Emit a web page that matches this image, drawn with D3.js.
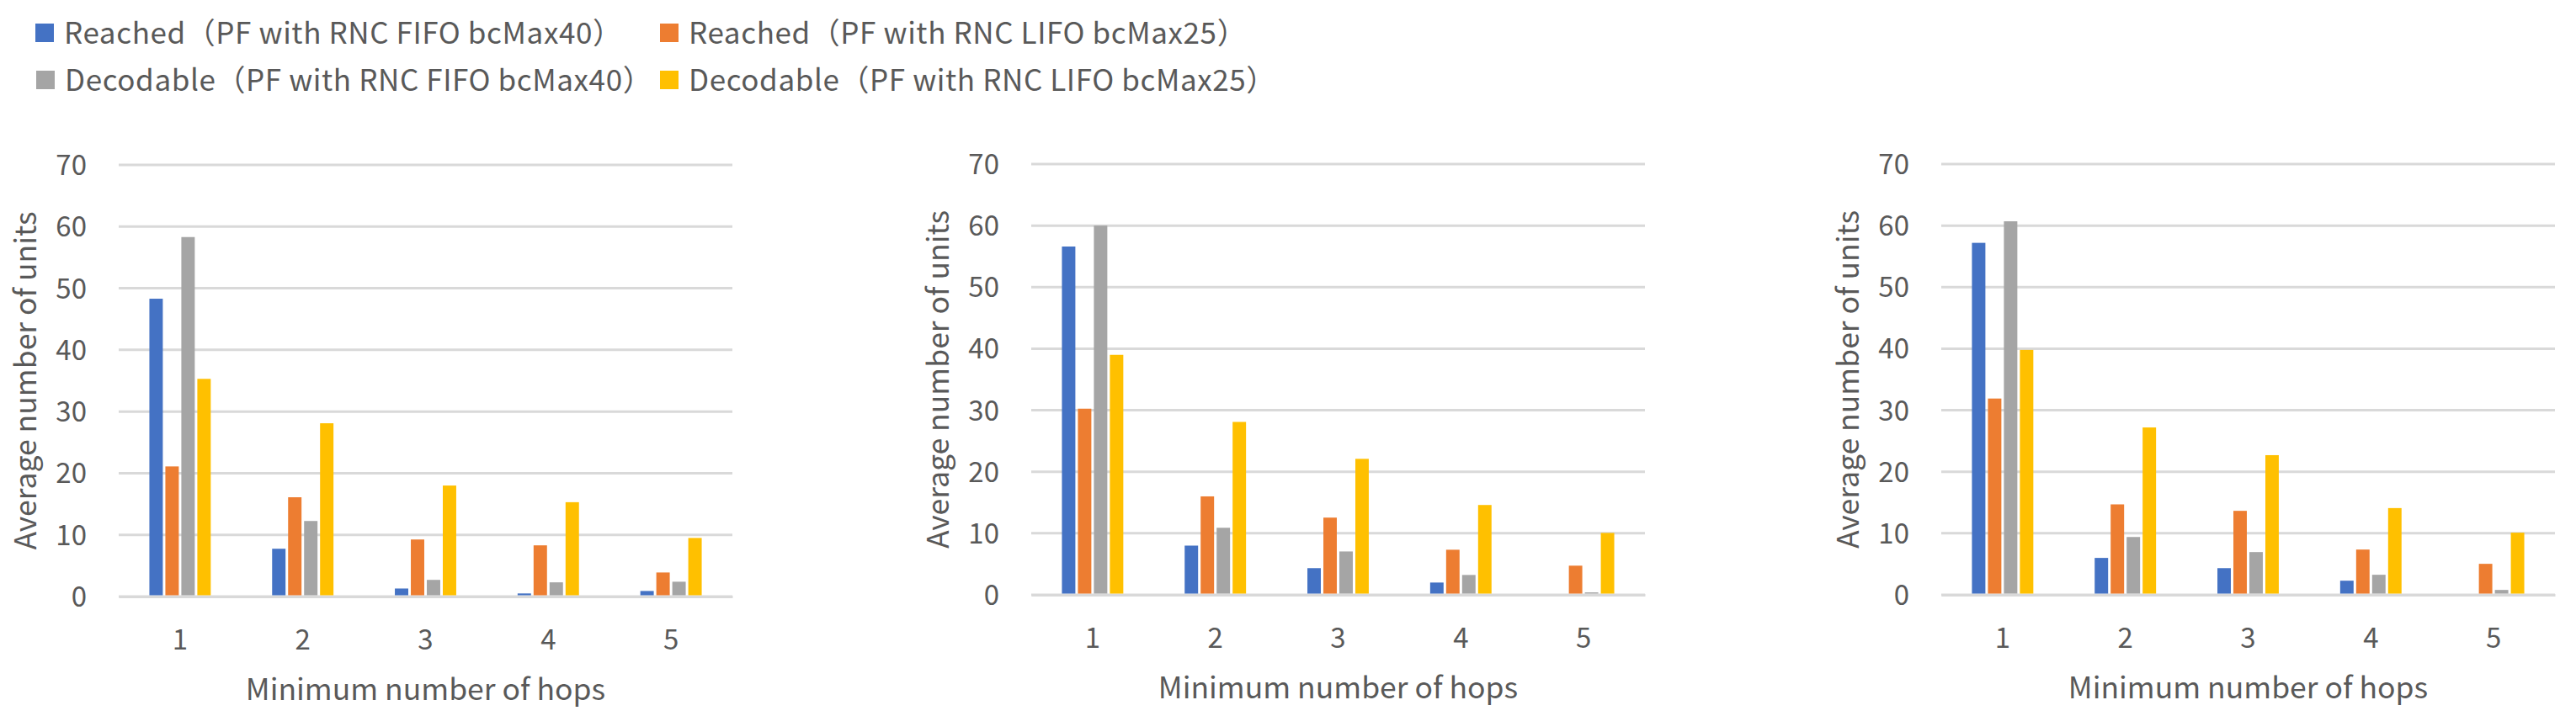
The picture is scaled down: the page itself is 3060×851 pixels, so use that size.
<!DOCTYPE html>
<html>
<head>
<meta charset="utf-8">
<script src="https://cdn.jsdelivr.net/npm/d3@7"></script>
<style>
  html, body { margin: 0; padding: 0; background: #ffffff; }
  svg { display: block; }
  text { font-family: "Noto Sans CJK SC", "Noto Sans", sans-serif; fill: #595959; }
</style>
</head>
<body>
<svg id="chart" width="3060" height="851"></svg>
<script>
// ---------------- data ----------------
const categories = ["1", "2", "3", "4", "5"];
const seriesNames = [
  "Reached（PF with RNC FIFO bcMax40）",
  "Reached（PF with RNC LIFO bcMax25）",
  "Decodable（PF with RNC FIFO bcMax40）",
  "Decodable（PF with RNC LIFO bcMax25）"
];
const yTicks = [0, 10, 20, 30, 40, 50, 60, 70];
const xAxisTitle = "Minimum number of hops";
const yAxisTitle = "Average number of units";

// chart 1
const reachedFIFO_1   = [48.3, 7.75, 1.3, 0.5, 0.9];
const reachedLIFO_1   = [21.1, 16.1, 9.25, 8.3, 3.9];
const decodableFIFO_1 = [58.3, 12.25, 2.7, 2.3, 2.4];
const decodableLIFO_1 = [35.3, 28.1, 18.0, 15.3, 9.5];
// chart 2
const reachedFIFO_2   = [56.6, 8.0, 4.34, 2.0, 0];
const reachedLIFO_2   = [30.25, 16.0, 12.55, 7.33, 4.74];
const decodableFIFO_2 = [60.0, 10.9, 7.05, 3.23, 0.4];
const decodableLIFO_2 = [39.0, 28.1, 22.1, 14.6, 10.06];
// chart 3
const reachedFIFO_3   = [57.2, 6.0, 4.34, 2.3, 0.2];
const reachedLIFO_3   = [31.9, 14.7, 13.65, 7.36, 5.04];
const decodableFIFO_3 = [60.7, 9.4, 6.95, 3.26, 0.8];
const decodableLIFO_3 = [39.8, 27.2, 22.7, 14.1, 10.1];

// ---------------- styling / layout ----------------
const colors = ["#4472C4", "#ED7D31", "#A5A5A5", "#FFC000"];
const gridColor = "#D9D9D9";

const panels = [
  { series: [reachedFIFO_1, reachedLIFO_1, decodableFIFO_1, decodableLIFO_1], left: 141, top: 196, bottom: 709 },
  { series: [reachedFIFO_2, reachedLIFO_2, decodableFIFO_2, decodableLIFO_2], left: 1225, top: 195, bottom: 707 },
  { series: [reachedFIFO_3, reachedLIFO_3, decodableFIFO_3, decodableLIFO_3], left: 2306, top: 195, bottom: 707 }
];
const plotWidth = 729;

const svg = d3.select("#chart");

panels.forEach(p => {
  const g = svg.append("g");
  const x0 = d3.scaleBand().domain(categories).range([p.left, p.left + plotWidth]).padding(0);
  const groupW = x0.bandwidth() * 0.5;
  const x1 = d3.scaleBand().domain(d3.range(seriesNames.length)).range([0, groupW]).paddingInner(0.16).paddingOuter(0);
  const y = d3.scaleLinear().domain([0, 70]).range([p.bottom, p.top]);

  // gridlines
  g.append("g").selectAll("line").data(yTicks).join("line")
    .attr("x1", p.left).attr("x2", p.left + plotWidth)
    .attr("y1", d => y(d)).attr("y2", d => y(d))
    .attr("stroke", gridColor).attr("stroke-width", 3);

  // y tick labels via axis
  const yAxis = d3.axisLeft(y).tickValues(yTicks).tickSize(0).tickPadding(38);
  const ya = g.append("g").attr("transform", `translate(${p.left},0)`).call(yAxis);
  ya.select(".domain").remove();
  ya.selectAll("text").attr("font-size", 33).attr("fill", "#595959")
    .attr("font-family", '"Noto Sans CJK SC", sans-serif').attr("dy", "0.35em");

  // bars
  const groups = g.append("g").selectAll("g").data(categories).join("g")
    .attr("transform", c => `translate(${x0(c) + (x0.bandwidth() - groupW) / 2},0)`);
  groups.selectAll("rect")
    .data((c, ci) => p.series.map((s, si) => ({ si, v: s[ci] })))
    .join("rect")
    .attr("x", d => x1(d.si))
    .attr("width", x1.bandwidth())
    .attr("y", d => y(d.v))
    .attr("height", d => Math.max(0, y(0) - y(d.v) - 1.5))
    .attr("fill", d => colors[d.si]);

  // x axis (category) line drawn on top
  const xAxis = d3.axisBottom(x0).tickSize(0).tickPadding(40);
  const xa = g.append("g").attr("transform", `translate(0,${y(0)})`).call(xAxis);
  xa.select(".domain").attr("stroke", gridColor).attr("stroke-width", 3);
  xa.selectAll("text").attr("font-size", 33).attr("fill", "#595959")
    .attr("font-family", '"Noto Sans CJK SC", sans-serif');

  // axis titles
  g.append("text")
    .attr("x", p.left + plotWidth / 2).attr("y", p.bottom + 123)
    .attr("text-anchor", "middle").attr("font-size", 35.5)
    .text(xAxisTitle);
  g.append("text")
    .attr("transform", `translate(${p.left - 98},${(p.top + p.bottom) / 2}) rotate(-90)`)
    .attr("text-anchor", "middle").attr("font-size", 35.5)
    .text(yAxisTitle);
});

// legend
const legendPos = [
  { x: 42, y: 28 }, { x: 784, y: 28 },
  { x: 43, y: 84 }, { x: 784, y: 84 }
];
const legend = svg.append("g").selectAll("g").data(seriesNames).join("g")
  .attr("transform", (d, i) => `translate(${legendPos[i].x},${legendPos[i].y})`);
legend.append("rect").attr("width", 22).attr("height", 22).attr("fill", (d, i) => colors[i]);
legend.append("text").attr("x", 34).attr("y", 11).attr("dy", "0.36em")
  .attr("font-size", 35).attr("letter-spacing", 0.6).text(d => d);
</script>
</body>
</html>
